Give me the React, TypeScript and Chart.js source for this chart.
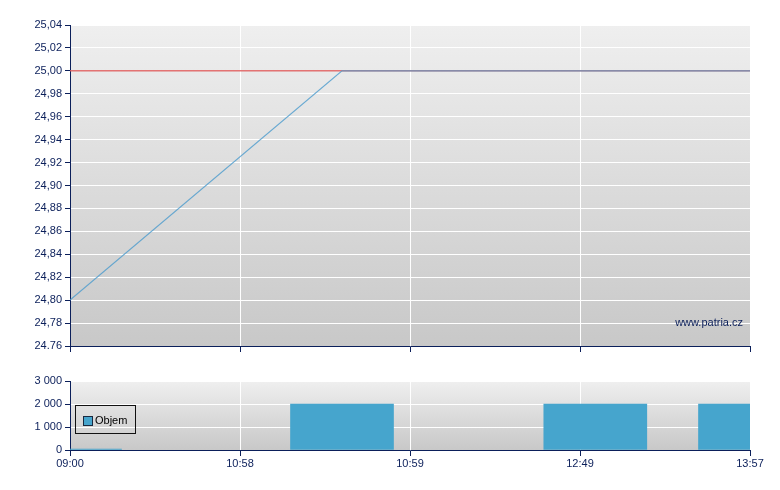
import React, { useEffect, useRef } from "react";
import { Chart, registerables } from "chart.js";

Chart.register(...registerables);

// ---- data ----
const xTickLabels = ["09:00", "10:58", "10:59", "12:49", "13:57"];
const tradePositions = [0, 1.6, 3.09, 4];
const tradePrices = [24.8, 25.0, 25.0, 25.0];
const tradeVolumes = [40, 2000, 2000, 2000];
const referencePrice = 25.0;
const priceTickLabels = [
  "24.76", "24,78", "24,80", "24,82", "24,84", "24,86", "24,88", "24,90",
  "24,92", "24,94", "24,96", "24,98", "25,00", "25,02", "25,04",
];
const volumeTickLabels = ["0", "1 000", "2 000", "3 000"];
const legendLabel = "Objem";
const watermark = "www.patria.cz";

const NAVY = "#0b1f5a";
const FONT = "'Liberation Sans', Arial, sans-serif";
const BAR_COLOR = "#46a5cd";

const gradientBg = {
  id: "gradientBg",
  beforeDraw(chart: any) {
    const { ctx, chartArea } = chart;
    if (!chartArea) return;
    const g = ctx.createLinearGradient(0, chartArea.top, 0, chartArea.bottom);
    g.addColorStop(0, "#efefef");
    g.addColorStop(1, "#c8c8c8");
    ctx.save();
    ctx.fillStyle = g;
    ctx.fillRect(chartArea.left, chartArea.top, chartArea.right - chartArea.left, chartArea.bottom - chartArea.top);
    ctx.restore();
  },
};

function xScale(showLabels: boolean, height: number) {
  return {
    type: "linear" as const,
    min: 0,
    max: 4,
    offset: false,
    afterFit: (s: any) => {
      s.height = height;
    },
    ticks: {
      stepSize: 1,
      autoSkip: false,
      maxRotation: 0,
      padding: 1,
      color: NAVY,
      font: { family: FONT, size: 11 },
      callback: (v: any) => (showLabels ? xTickLabels[Math.round(Number(v))] ?? "" : ""),
    },
    grid: { offset: false, color: "#ffffff", lineWidth: 1, tickColor: NAVY, tickLength: 6, drawTicks: true },
    border: { color: NAVY, width: 1 },
  };
}

export default function App() {
  const topRef = useRef<HTMLCanvasElement>(null);
  const botRef = useRef<HTMLCanvasElement>(null);

  useEffect(() => {
    const top = new Chart(topRef.current!, {
      type: "line",
      data: {
        datasets: [
          {
            label: "Cena",
            data: tradePositions.map((x, i) => ({ x, y: tradePrices[i] })),
            borderColor: "rgba(75,155,205,0.8)",
            borderWidth: 1.2,
            pointRadius: 0,
            tension: 0,
          },
          {
            label: "Ref",
            data: [
              { x: 0, y: referencePrice },
              { x: 4, y: referencePrice },
            ],
            borderColor: "rgba(222,90,90,0.85)",
            borderWidth: 1.5,
            pointRadius: 0,
            tension: 0,
          },
        ],
      },
      options: {
        responsive: false,
        animation: false,
        layout: { padding: { left: 0, right: 30, top: 25, bottom: 0 } },
        plugins: { legend: { display: false }, tooltip: { enabled: false } },
        scales: {
          x: xScale(false, 14),
          y: {
            min: 24.76,
            max: 25.04,
            afterFit: (s: any) => {
              s.width = 70;
            },
            ticks: {
              stepSize: 0.02,
              padding: 3,
              color: NAVY,
              font: { family: FONT, size: 11 },
              callback: (_v: any, i: number) => priceTickLabels[i] ?? "",
            },
            grid: { color: "#ffffff", lineWidth: 1, tickColor: NAVY, tickLength: 5 },
            border: { color: NAVY, width: 1 },
          },
        },
      },
      plugins: [gradientBg],
    });

    const bot = new Chart(botRef.current!, {
      type: "bar",
      data: {
        datasets: [
          {
            label: legendLabel,
            data: tradePositions.map((x, i) => ({ x, y: tradeVolumes[i] })),
            backgroundColor: BAR_COLOR,
            borderWidth: 0,
            barThickness: 103,
          },
        ],
      },
      options: {
        responsive: false,
        animation: false,
        layout: { padding: { left: 0, right: 30, top: 21, bottom: 0 } },
        plugins: { legend: { display: false }, tooltip: { enabled: false } },
        scales: {
          x: xScale(true, 40) as any,
          y: {
            min: 0,
            max: 3000,
            afterFit: (s: any) => {
              s.width = 70;
            },
            ticks: {
              stepSize: 1000,
              padding: 3,
              color: NAVY,
              font: { family: FONT, size: 11 },
              callback: (_v: any, i: number) => volumeTickLabels[i] ?? "",
            },
            grid: { color: "#ffffff", lineWidth: 1, tickColor: NAVY, tickLength: 5 },
            border: { color: NAVY, width: 1 },
          },
        },
      },
      plugins: [gradientBg],
    });

    return () => {
      top.destroy();
      bot.destroy();
    };
  }, []);

  return (
    <div style={{ position: "fixed", left: 0, top: 0, width: 780, height: 490, background: "#fff" }}>
      <canvas ref={topRef} width={780} height={360} style={{ position: "absolute", left: 0, top: 0, display: "block" }} />
      <canvas ref={botRef} width={780} height={130} style={{ position: "absolute", left: 0, top: 360, display: "block" }} />
      <div
        style={{
          position: "absolute",
          right: 37,
          top: 316,
          color: NAVY,
          font: `11px ${FONT}`,
          lineHeight: "13px",
          whiteSpace: "nowrap",
        }}
      >
        {watermark}
      </div>
      <div
        style={{
          position: "absolute",
          left: 75,
          top: 405,
          width: 59,
          height: 27,
          border: "1px solid #111",
          boxSizing: "content-box",
        }}
      >
        <div
          style={{
            position: "absolute",
            left: 7,
            top: 10,
            width: 8,
            height: 8,
            background: BAR_COLOR,
            border: "1px solid #1a2a40",
          }}
        />
        <div
          style={{
            position: "absolute",
            left: 19,
            top: 7,
            font: `11px ${FONT}`,
            lineHeight: "14px",
            color: "#000",
            whiteSpace: "nowrap",
          }}
        >
          {legendLabel}
        </div>
      </div>
    </div>
  );
}
